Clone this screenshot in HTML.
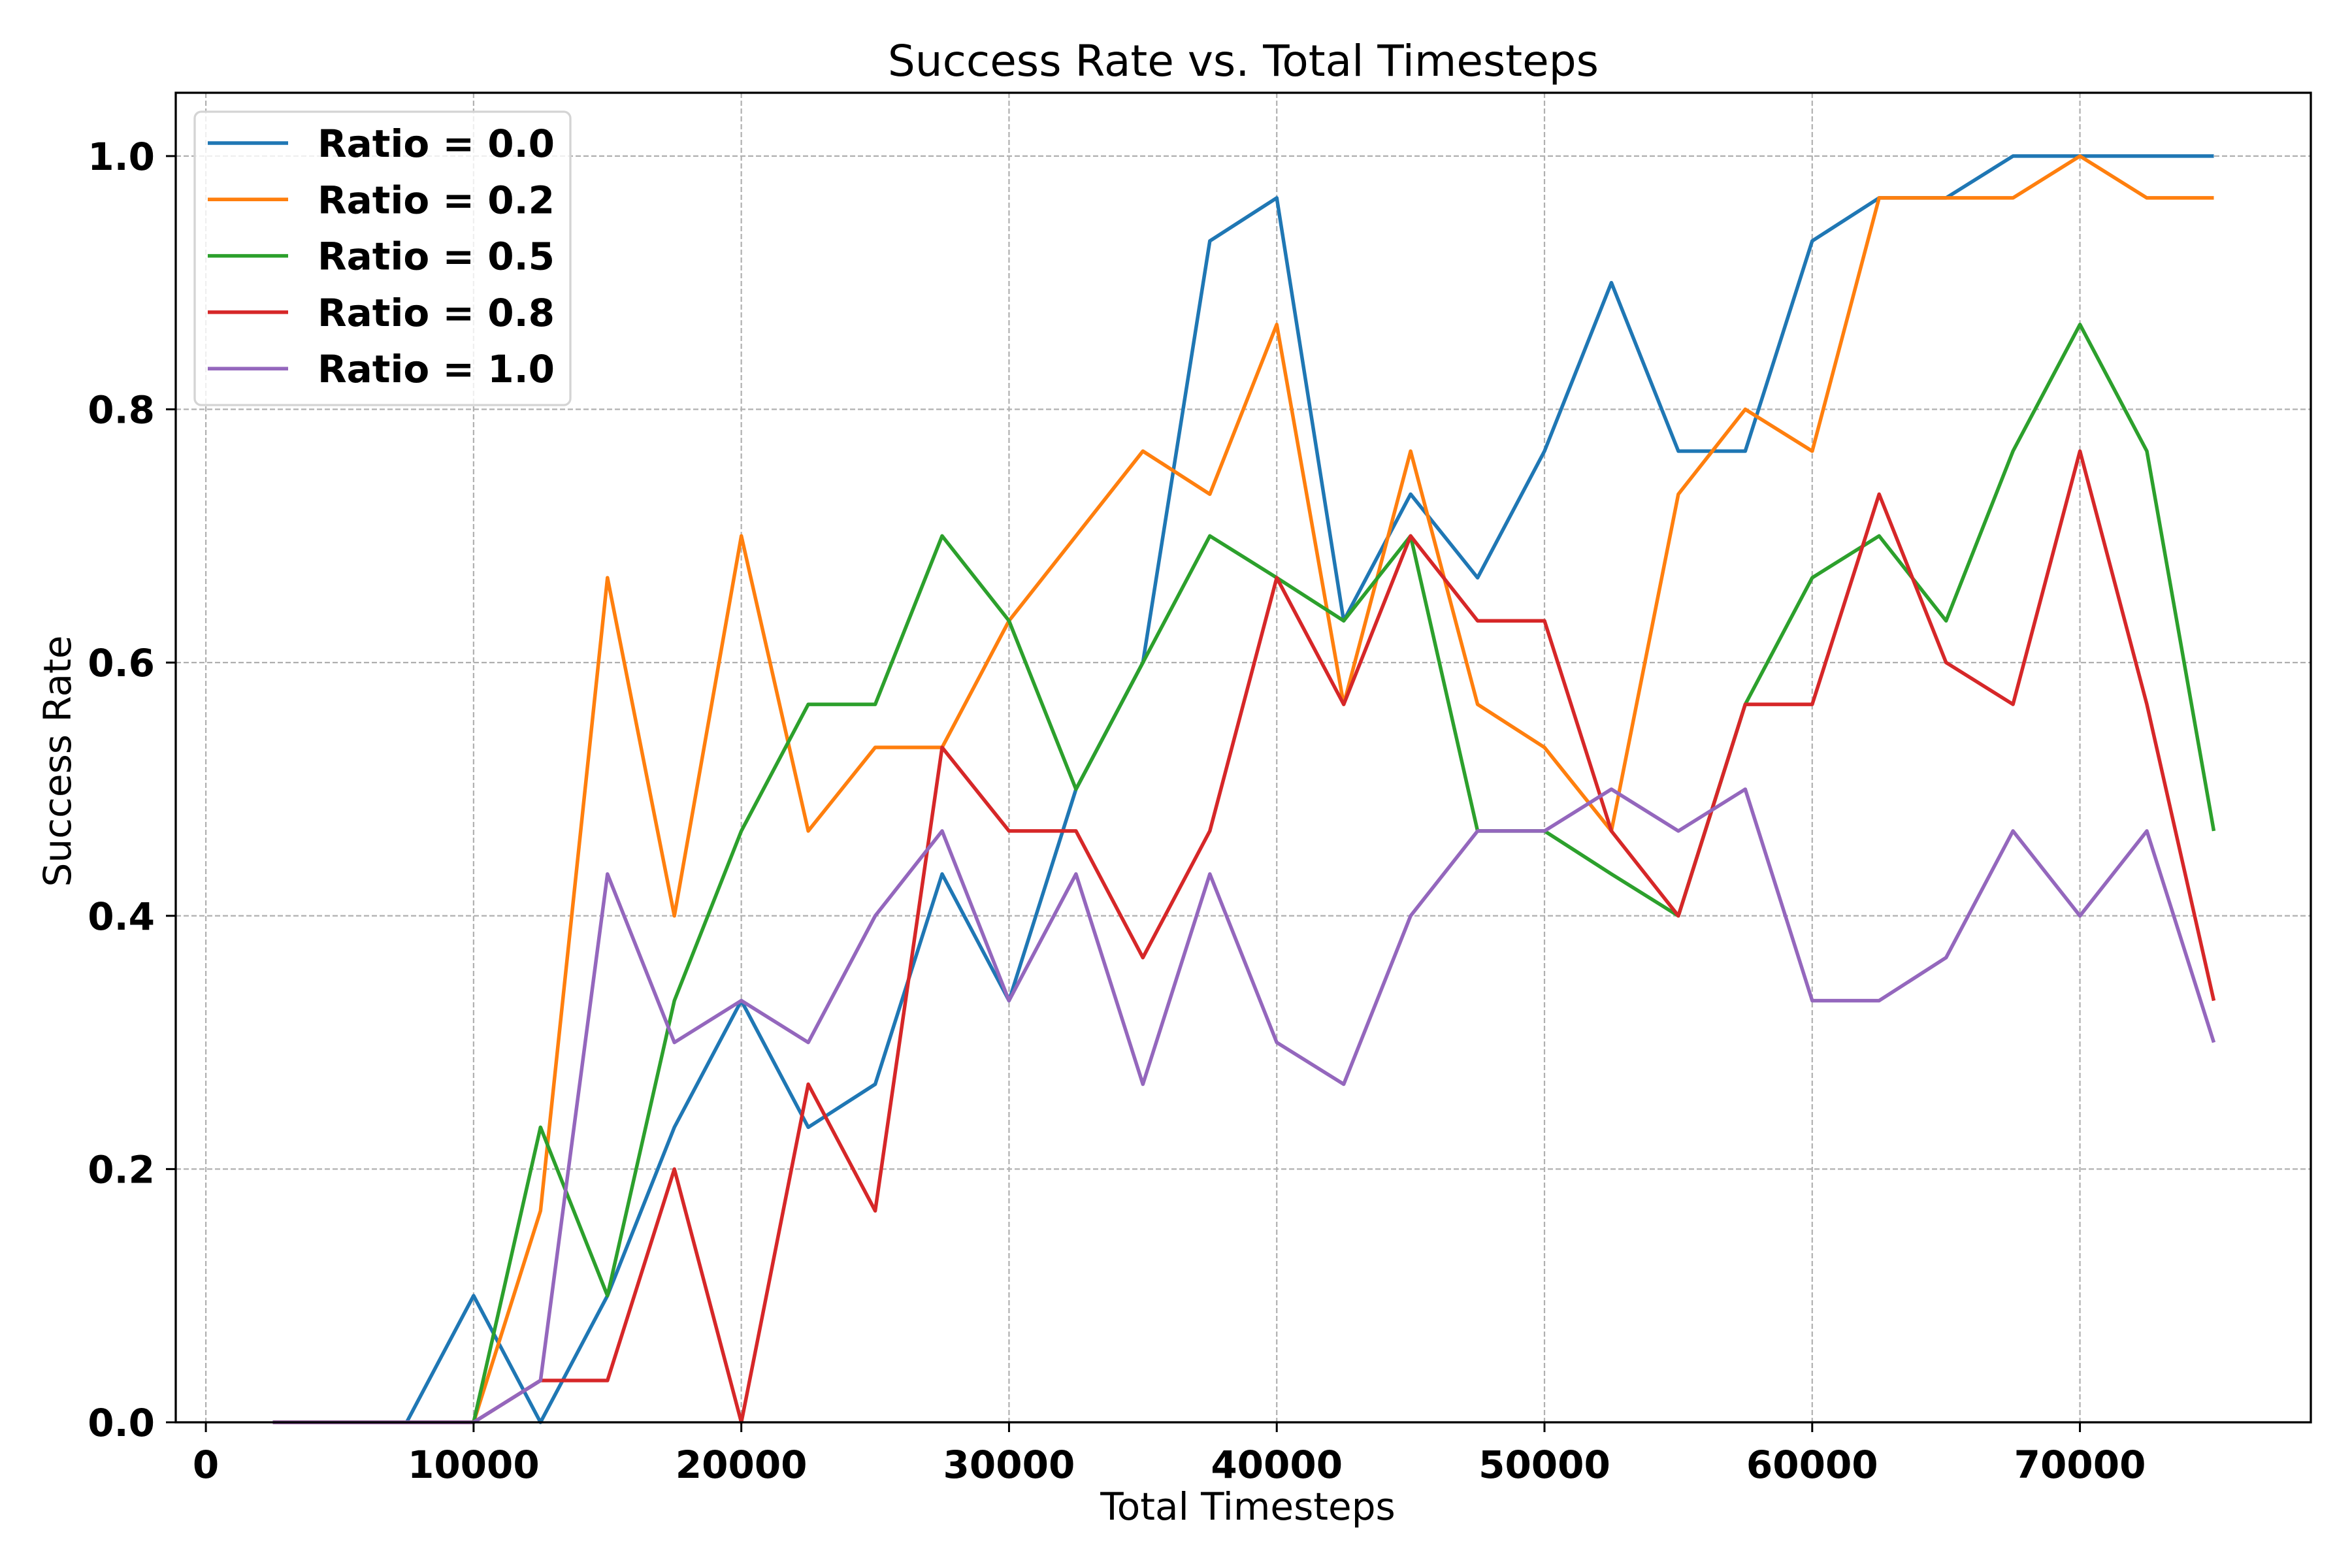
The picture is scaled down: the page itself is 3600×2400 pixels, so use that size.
<!DOCTYPE html>
<html><head><meta charset="utf-8">
<style>
html,body{margin:0;padding:0;background:#fff;}
svg{display:block;}
text{font-family:"DejaVu Sans","Liberation Sans",sans-serif;}
</style></head>
<body>
<svg id="chart" width="3600" height="2400" viewBox="0 0 3600 2400" xmlns="http://www.w3.org/2000/svg">
<rect width="3600" height="2400" fill="#fff"/>
<g id="grid"></g>
<g id="series"></g>
<g id="axes"></g>
<text x="1903" y="116" font-size="66" text-anchor="middle" fill="#000">Success Rate vs. Total Timesteps</text>
<text x="1910" y="2326" font-size="58" text-anchor="middle" fill="#000">Total Timesteps</text>
<text x="0" y="0" font-size="58" text-anchor="middle" fill="#000" transform="translate(108,1165) rotate(-90)">Success Rate</text>
<g id="legend"></g>
</svg>
<script>
const steps = [2500,5000,7500,10000,12500,15000,17500,20000,22500,25000,27500,30000,32500,35000,37500,40000,42500,45000,47500,50000,52500,55000,57500,60000,62500,65000,67500,70000,72500,75000];
const ratio00 = [0,0,0,0.1,0,0.1,0.233,0.333,0.233,0.267,0.433,0.333,0.5,0.6,0.933,0.967,0.633,0.733,0.667,0.767,0.9,0.767,0.767,0.933,0.967,0.967,1,1,1,1];
const ratio02 = [0,0,0,0,0.167,0.667,0.4,0.7,0.467,0.533,0.533,0.633,0.7,0.767,0.733,0.867,0.567,0.767,0.567,0.533,0.467,0.733,0.8,0.767,0.967,0.967,0.967,1,0.967,0.967];
const ratio05 = [0,0,0,0,0.233,0.1,0.333,0.467,0.567,0.567,0.7,0.633,0.5,0.6,0.7,0.667,0.633,0.7,0.467,0.467,0.433,0.4,0.567,0.667,0.7,0.633,0.767,0.867,0.767,0.467];
const ratio08 = [0,0,0,0,0.033,0.033,0.2,0,0.267,0.167,0.533,0.467,0.467,0.367,0.467,0.667,0.567,0.7,0.633,0.633,0.467,0.4,0.567,0.567,0.733,0.6,0.567,0.767,0.567,0.333];
const ratio10 = [0,0,0,0,0.033,0.433,0.3,0.333,0.3,0.4,0.467,0.333,0.433,0.267,0.433,0.3,0.267,0.4,0.467,0.467,0.5,0.467,0.5,0.333,0.333,0.367,0.467,0.4,0.467,0.3];
const seriesLabels = ["Ratio = 0.0","Ratio = 0.2","Ratio = 0.5","Ratio = 0.8","Ratio = 1.0"];
const xTicks = [0,10000,20000,30000,40000,50000,60000,70000];
const yTicks = [0.0,0.2,0.4,0.6,0.8,1.0];

const NS="http://www.w3.org/2000/svg";
const L=269,R=3537,T=142,B=2177;
const xMin=-1125,xMax=78625,yMin=0,yMax=1.05;
const xs=v=>L+(v-xMin)/(xMax-xMin)*(R-L);
const ys=v=>B-(v-yMin)/(yMax-yMin)*(B-T);
function mk(tag,attrs,parent){const e=document.createElementNS(NS,tag);for(const k in attrs)e.setAttribute(k,attrs[k]);parent.appendChild(e);return e;}
const grid=document.getElementById('grid'),axes=document.getElementById('axes'),ser=document.getElementById('series'),leg=document.getElementById('legend');
xTicks.forEach(t=>{
  const g=mk('line',{x1:xs(t),x2:xs(t),y1:T,y2:B,stroke:'#b0b0b0','stroke-width':2.2,'stroke-dasharray':'8 4'},grid);
  
  
  const tk=mk('line',{x1:xs(t),x2:xs(t),y1:B,y2:B+15,stroke:'#000','stroke-width':3},axes);
  
  
  const lb=mk('text',{x:xs(t),y:B+85,'font-size':58,'font-weight':'bold','text-anchor':'middle',fill:'#000'},axes);
  lb.textContent=String(t);
  
  
});
yTicks.forEach(t=>{
  const g=mk('line',{x1:L,x2:R,y1:ys(t),y2:ys(t),stroke:'#b0b0b0','stroke-width':2.2,'stroke-dasharray':'8 4'},grid);
  
  
  const tk=mk('line',{x1:L-15,x2:L,y1:ys(t),y2:ys(t),stroke:'#000','stroke-width':3},axes);
  
  
  const lb=mk('text',{x:L-32,y:ys(t)+21,'font-size':58,'font-weight':'bold','text-anchor':'end',fill:'#000'},axes);
  lb.textContent=t.toFixed(1);
  
  
});
const frame=mk('rect',{x:L,y:T,width:R-L,height:B-T,fill:'none',stroke:'#000','stroke-width':3.3},axes);


const data=[ratio00,ratio02,ratio05,ratio08,ratio10];
const colors=['#1f77b4','#ff7f0e','#2ca02c','#d62728','#9467bd'];
const names=['line-ratio-0-0','line-ratio-0-2','line-ratio-0-5','line-ratio-0-8','line-ratio-1-0'];
data.forEach((vals,i)=>{
  const pts=vals.map((v,j)=>xs(steps[j]).toFixed(1)+','+ys(v).toFixed(1)).join(' ');
  const p=mk('polyline',{points:pts,fill:'none',stroke:colors[i],'stroke-width':5.5,'stroke-linejoin':'round'},ser);
  
  
});
const box=mk('rect',{x:298,y:171,width:575,height:449,rx:10,fill:'#fff','fill-opacity':0.8,stroke:'#d4d4d4','stroke-width':3.3},leg);


seriesLabels.forEach((s,i)=>{
  const y=219+i*86.3;
  const ln=mk('line',{x1:318,x2:441,y1:y,y2:y,stroke:colors[i],'stroke-width':5.5},leg);
  
  
  const tx=mk('text',{x:486,y:y+21,'font-size':58,'font-weight':'bold',fill:'#000'},leg);
  tx.textContent=s;
  
  
});
</script>
</body></html>
